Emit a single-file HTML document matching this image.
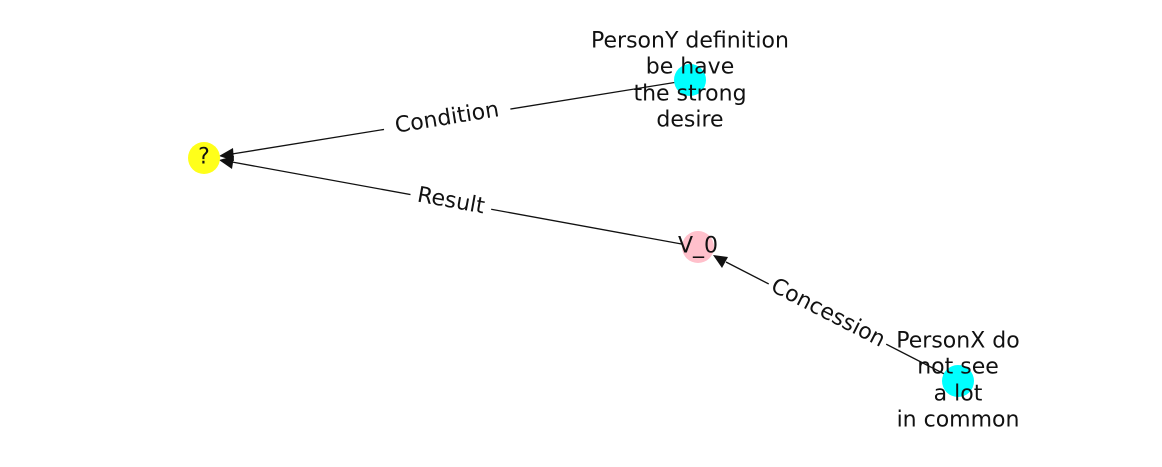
<!DOCTYPE html>
<html><head><meta charset="utf-8"><style>
html,body{margin:0;padding:0;background:#fff;}
svg text{font-family:"DejaVu Sans","Liberation Sans",sans-serif;font-size:22px;fill:#111;}
</style></head><body>
<svg width="1162" height="462" viewBox="0 0 1162 462" xmlns="http://www.w3.org/2000/svg">
<g stroke="#111" stroke-width="1.3" fill="none">
<line x1="690" y1="80" x2="232" y2="154"/>
<line x1="698" y1="247" x2="232" y2="162"/>
<line x1="958" y1="381" x2="726" y2="262"/>
</g>
<g fill="#111">
<polygon points="219,156 233,148 234,161"/>
<polygon points="219,160 234,156 232,169"/>
<polygon points="713,255 728,257 722,268"/>
</g>
<circle cx="204" cy="158" r="16" fill="#ffff1a" />
<circle cx="690" cy="80" r="16" fill="#00ffff"/>
<circle cx="698" cy="247" r="16" fill="#ffc0cb"/>
<circle cx="958" cy="381" r="16" fill="#00ffff"/>
<g text-anchor="middle" dominant-baseline="central">
<g transform="translate(447,118) rotate(-9.2)"><rect x="-64" y="-14" width="128" height="28" fill="#fff"/><text x="0" y="0">Condition</text></g>
<g transform="translate(451,201) rotate(10.3)"><rect x="-41" y="-14" width="82" height="28" fill="#fff"/><text x="0" y="0">Result</text></g>
<g transform="translate(828,313) rotate(27.1)"><rect x="-66" y="-14" width="132" height="28" fill="#fff"/><text x="0" y="0">Concession</text></g>
<text x="204" y="157">?</text>
<text x="698" y="246">V_0</text>
<text x="690" y="41">PersonY definition</text>
<text x="690" y="67">be have</text>
<text x="690" y="94">the strong</text>
<text x="690" y="120">desire</text>
<text x="958" y="341">PersonX do</text>
<text x="958" y="367">not see</text>
<text x="958" y="394">a lot</text>
<text x="958" y="420">in common</text>
</g>
</svg>
</body></html>
